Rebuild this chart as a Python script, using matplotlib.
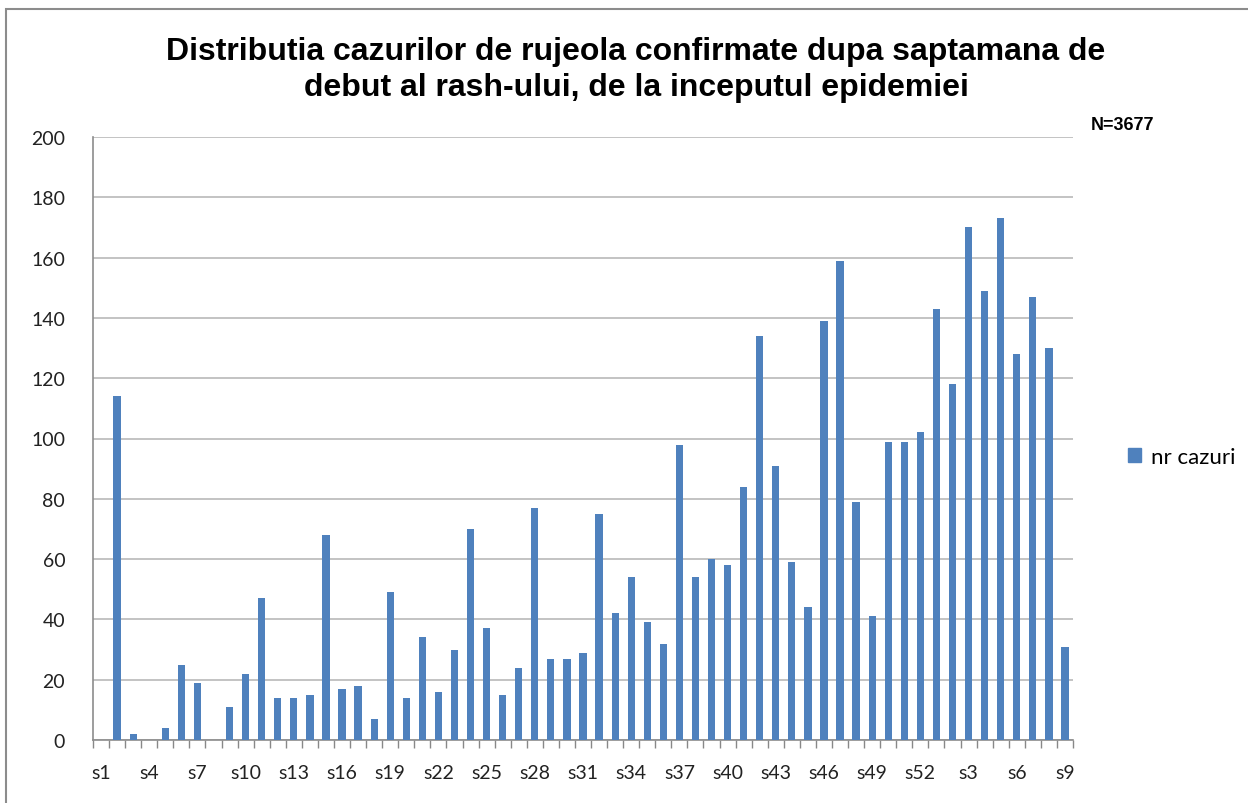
import matplotlib
matplotlib.use('Agg')
import matplotlib.pyplot as plt
from matplotlib.patches import Rectangle, Patch
import numpy as np

# saptamani: s1..s52 apoi s1..s9 din anul urmator
weeks = [f"s{i}" for i in range(1, 53)] + [f"s{i}" for i in range(1, 10)]
cases = [0, 114, 2, 0, 4, 25, 19, 0, 11, 22,
         47, 14, 14, 15, 68, 17, 18, 7, 49, 14,
         34, 16, 30, 70, 37, 15, 24, 77, 27, 27,
         29, 75, 42, 54, 39, 32, 98, 54, 60, 58,
         84, 134, 91, 59, 44, 139, 159, 79, 41, 99,
         99, 102,
         143, 118, 170, 149, 173, 128, 147, 130, 31]

title = "Distributia cazurilor de rujeola confirmate dupa saptamana de\ndebut al rash-ului, de la inceputul epidemiei"
bar_color = '#4F81BD'
grid_color = '#BEBEBE'

fig = plt.figure(figsize=(12.48, 8.04), dpi=100, facecolor='white')
ax = fig.add_axes([93 / 1248, 63 / 804, 980 / 1248, 603 / 804])

x = np.arange(len(weeks))
ax.bar(x, cases, width=0.45, color=bar_color, zorder=3)

ax.set_xlim(-0.5, len(weeks) - 0.5)
ax.set_ylim(0, 200)
ax.set_yticks(range(0, 201, 20))
ax.yaxis.grid(True, color=grid_color, linewidth=1.3, zorder=0)
ax.tick_params(axis='y', length=0, pad=20, labelsize=14, labelcolor='#222222')
for lbl in ax.get_yticklabels():
    lbl.set_fontfamily('Lato')
    lbl.set_horizontalalignment('right')

# etichete la fiecare a treia saptamana, liniute intre categorii
ax.set_xticks(x[::3])
ax.set_xticklabels(weeks[::3], fontsize=14, family='Lato', color='#222222')
ax.set_xticks(np.arange(-0.5, len(weeks), 1), minor=True)
ax.tick_params(axis='x', which='major', length=0, pad=17)
ax.tick_params(axis='x', which='minor', length=6, color='#888888', width=1)

for side in ['top', 'right']:
    ax.spines[side].set_visible(False)
for side in ['left', 'bottom']:
    ax.spines[side].set_color('#8C8C8C')
    ax.spines[side].set_linewidth(1.2)

fig.text(636 / 1248, 1 - 70 / 804, title, ha='center', va='center',
         fontsize=23, fontweight='bold', family='Liberation Sans',
         linespacing=1.25, color='black')
fig.text(1122 / 1248, 1 - 126 / 804, 'N=3677', ha='center', va='center',
         fontsize=13, fontweight='bold', family='Liberation Sans')

fig.legend(handles=[Patch(color=bar_color, label='nr cazuri')],
           loc='center left', bbox_to_anchor=(1108 / 1248, 1 - 458 / 804),
           frameon=False, prop={'family': 'Lato', 'size': 16},
           handlelength=0.6, handleheight=0.6, handletextpad=0.45)

# chenarul graficului
fig.patches.append(Rectangle((6 / 1248, -0.1), 1.2, (794 / 804) + 0.1,
                             transform=fig.transFigure, fill=False,
                             edgecolor='#8C8C8C', linewidth=1.5))

fig.savefig('out.png', dpi=100, facecolor='white')
